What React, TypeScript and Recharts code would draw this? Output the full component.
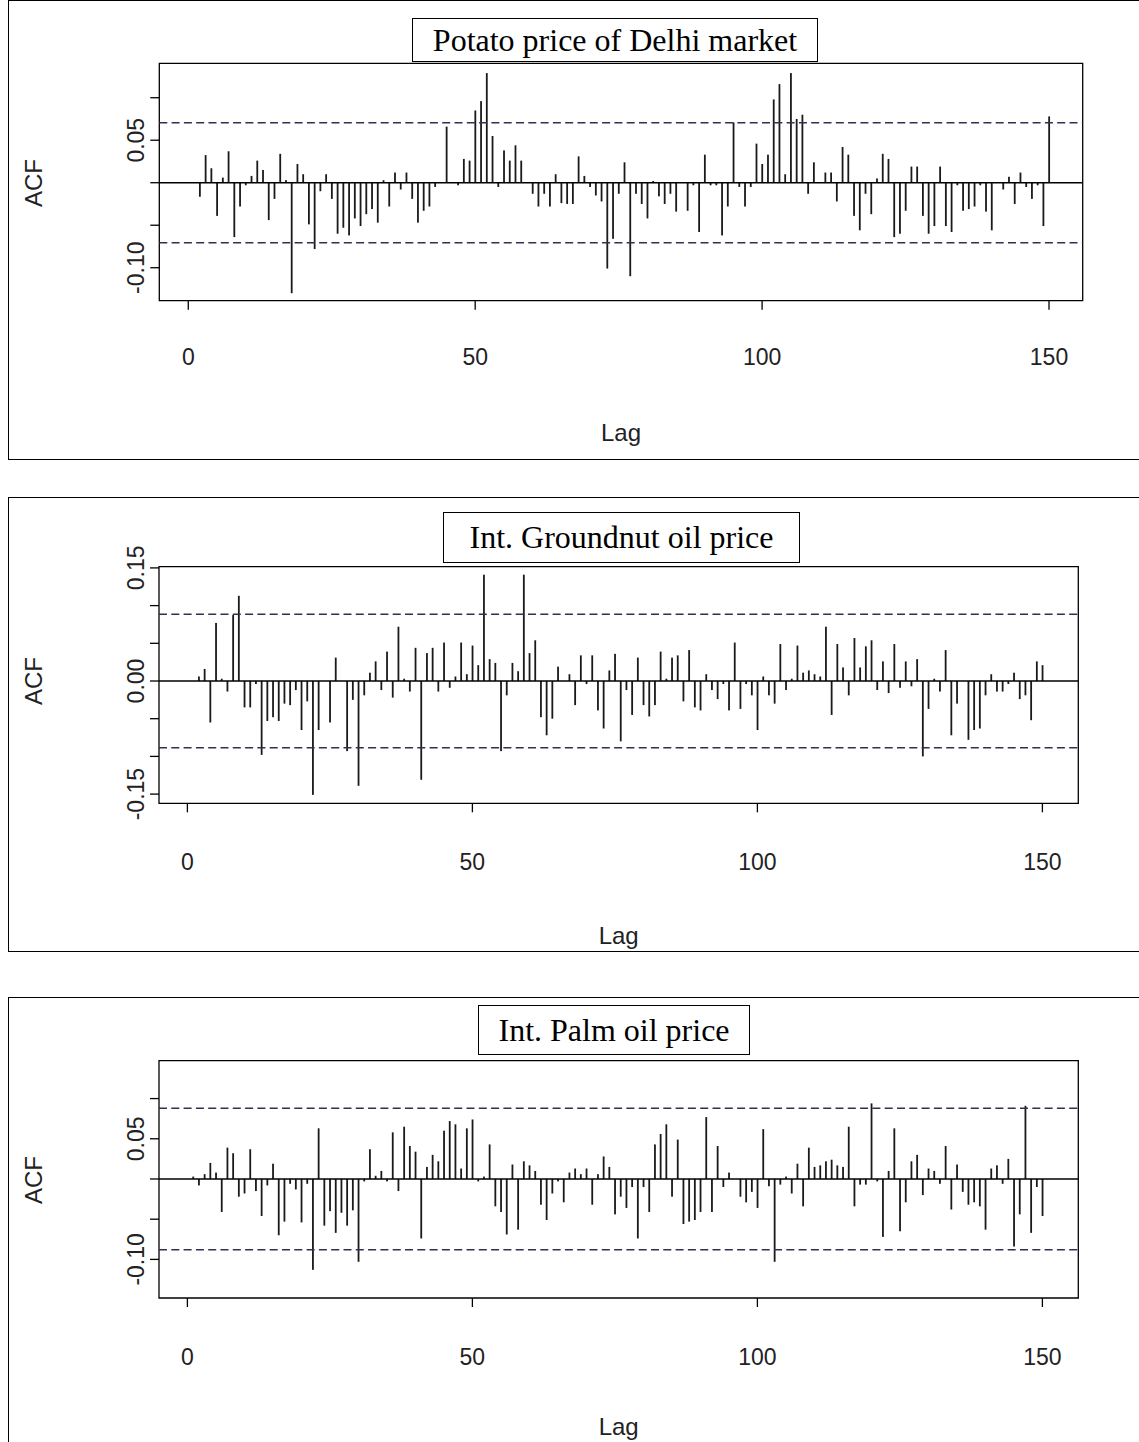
import React from 'react';
import { BarChart, Bar, XAxis, YAxis, ReferenceLine, ReferenceArea } from 'recharts';

// ---------------- DATA ----------------
const lags: number[] = Array.from({ length: 150 }, (_, i) => i + 1);

const potatoAcf: number[] = [
  0, -0.0165, 0.0325, 0.017, -0.039, 0.006, 0.037, -0.064, -0.028, -0.003,
  0.008, 0.026, 0.015, -0.044, -0.019, 0.034, 0.003, -0.13, 0.022, 0.01,
  -0.049, -0.078, -0.01, 0.01, -0.019, -0.06, -0.053, -0.062, -0.042, -0.051,
  -0.037, -0.031, -0.047, 0.003, -0.028, 0.012, -0.008, 0.012, -0.019, -0.047,
  -0.033, -0.028, -0.005, 0, 0.066, 0, -0.003, 0.028, 0.026, 0.085,
  0.096, 0.129, 0.055, -0.005, 0.038, 0.026, 0.044, 0.026, 0, -0.013,
  -0.028, -0.013, -0.028, 0.01, -0.024, -0.025, -0.025, 0.031, 0.008, -0.005,
  -0.015, -0.022, -0.101, -0.066, -0.013, 0.024, -0.11, -0.013, -0.025, -0.042,
  0.002, -0.016, -0.025, -0.013, -0.034, 0, -0.033, -0.003, -0.058, 0.033,
  -0.003, -0.003, -0.062, -0.028, 0.071, -0.005, -0.028, -0.005, 0.046, 0.022,
  0.033, 0.098, 0.116, 0.01, 0.129, 0.075, 0.08, -0.013, 0.024, 0,
  0.012, 0.012, -0.022, 0.042, 0.033, -0.039, -0.056, -0.013, -0.037, 0.005,
  0.034, 0.028, -0.064, -0.06, -0.033, 0.019, 0.019, -0.039, -0.06, -0.051,
  0.019, -0.051, -0.058, -0.003, -0.033, -0.031, -0.028, -0.003, -0.034, -0.056,
  0, -0.008, 0.007, -0.025, 0.012, -0.005, -0.019, -0.003, -0.051, 0.078,
];

const groundnutAcf: number[] = [
  0, 0.006, 0.016, -0.055, 0.077, 0.003, -0.014, 0.0875, 0.113, -0.035,
  -0.035, -0.004, -0.098, -0.053, -0.048, -0.053, -0.03, -0.032, -0.012, -0.065,
  -0.027, -0.151, -0.065, 0, -0.055, 0.031, 0, -0.093, -0.025, -0.139,
  -0.019, 0.011, 0.026, -0.012, 0.039, -0.022, 0.072, 0.003, -0.014, 0.044,
  -0.131, 0.037, 0.044, -0.014, 0.051, -0.009, 0.006, 0.051, 0.009, 0.047,
  0.021, 0.141, 0.029, 0.024, -0.093, -0.019, 0.024, 0.013, 0.141, 0.037,
  0.054, -0.048, -0.072, -0.05, 0.019, 0, 0.009, -0.032, 0.034, -0.004,
  0.034, -0.039, -0.063, 0.014, 0.036, -0.08, -0.012, -0.045, 0.031, -0.032,
  -0.047, -0.032, 0.039, 0.003, 0.031, 0.034, -0.027, 0.041, -0.035, -0.039,
  0.009, -0.012, -0.024, -0.004, -0.039, 0.051, -0.037, -0.004, -0.019, -0.065,
  0.006, -0.019, -0.03, 0.049, -0.012, 0.003, 0.047, 0.011, 0.014, 0.009,
  0.006, 0.072, -0.045, 0.049, 0.018, -0.019, 0.057, 0.018, 0.046, 0.054,
  -0.012, 0.026, -0.016, 0.049, -0.009, 0.026, -0.007, 0.029, -0.1, -0.037,
  0.003, -0.014, 0.041, -0.072, -0.03, 0, -0.078, -0.065, -0.063, -0.019,
  0.009, -0.014, -0.014, -0.004, 0.011, -0.024, -0.019, -0.052, 0.026, 0.021,
];

const palmAcf: number[] = [
  0.003, -0.008, 0.006, 0.02, 0.008, -0.041, 0.039, 0.032, -0.022, -0.018,
  0.037, -0.015, -0.046, -0.008, 0.019, -0.07, -0.053, -0.006, -0.013, -0.054,
  -0.006, -0.113, 0.063, -0.058, -0.04, -0.067, -0.042, -0.058, -0.039, -0.103,
  -0.003, 0.037, 0.004, 0.01, -0.003, 0.058, -0.015, 0.065, 0.041, 0.034,
  -0.074, 0.015, 0.03, 0.022, 0.06, 0.072, 0.068, 0.013, 0.063, 0.074,
  -0.003, 0.003, 0.043, -0.034, -0.041, -0.069, 0.018, -0.063, 0.022, 0.017,
  0.01, -0.032, -0.051, -0.018, -0.003, -0.029, 0.008, 0.013, 0.006, 0.013,
  -0.032, 0.006, 0.028, 0.015, -0.044, -0.022, -0.036, -0.01, -0.074, -0.01,
  -0.041, 0.043, 0.056, 0.068, -0.022, 0.049, -0.056, -0.053, -0.051, -0.041,
  0.077, -0.041, 0.041, -0.01, 0.008, 0, -0.022, -0.029, -0.016, -0.036,
  0.062, -0.009, -0.103, -0.007, 0.003, -0.018, 0.019, -0.034, 0.039, 0.015,
  0.017, 0.022, 0.024, 0.017, 0.015, 0.065, -0.034, -0.007, -0.007, 0.094,
  -0.003, -0.072, 0.01, 0.063, -0.065, -0.029, 0.022, 0.03, -0.02, 0.013,
  0.01, -0.006, 0.041, -0.038, 0.018, -0.016, -0.032, -0.029, -0.034, -0.063,
  0.013, 0.017, -0.006, 0.025, -0.084, -0.044, 0.091, -0.067, -0.01, -0.046,
];

const xTicks: number[] = [0, 50, 100, 150];
const potatoYTicks: number[] = [-0.1, -0.05, 0, 0.05, 0.1];
const potatoYLabels: number[] = [-0.1, 0.05];
const groundnutYTicks: number[] = [-0.15, -0.1, -0.05, 0, 0.05, 0.1, 0.15];
const groundnutYLabels: number[] = [-0.15, 0, 0.15];
const palmYTicks: number[] = [-0.1, -0.05, 0, 0.05, 0.1];
const palmYLabels: number[] = [-0.1, 0.05];

const potatoCI = 0.0706;
const groundnutCI = 0.0885;
const palmCI = 0.088;

const toRows = (vals: number[]) => lags.map((lag, i) => ({ lag, acf: vals[i] }));

// ---------------- RENDER HELPERS ----------------
const SANS = '"Liberation Sans", Arial, sans-serif';
const SERIF = '"Liberation Serif", "Times New Roman", serif';
const W = 1139;

const Spike = (props: any) => {
  const { x, y, width, height } = props;
  if (x == null || y == null || height == null) return null;
  const h = Math.abs(height);
  const top = height < 0 ? y + height : y;
  const cx = x + width / 2;
  return <rect x={cx - 0.9} y={top} width={1.8} height={h} fill="#1a1a1a" />;
};

const XTick = (props: any) => {
  const { x, payload, baseline } = props;
  return (
    <text x={x} y={baseline} textAnchor="middle" fontFamily={SANS} fontSize={23} fill="#222">
      {String(payload.value)}
    </text>
  );
};

const YTick = (props: any) => {
  const { y, payload, labeled, bx } = props;
  const v = payload.value;
  if (!labeled.some((l: number) => Math.abs(l - v) < 1e-9)) return null;
  return (
    <text
      x={bx}
      y={y}
      transform={`rotate(-90 ${bx} ${y})`}
      textAnchor="middle"
      fontFamily={SANS}
      fontSize={23}
      fill="#222"
    >
      {v.toFixed(2)}
    </text>
  );
};

const AxisTitle = (props: any) => {
  const { tx, ty, text, rotate } = props;
  return (
    <text
      x={tx}
      y={ty}
      transform={rotate ? `rotate(-90 ${tx} ${ty})` : undefined}
      textAnchor="middle"
      fontFamily={SANS}
      fontSize={24}
      fill="#222"
    >
      {text}
    </text>
  );
};

type Cfg = {
  title: string;
  data: { lag: number; acf: number }[];
  ci: number;
  yTicks: number[];
  yLabels: number[];
  yDomain: [number, number];
  xDomain: [number, number];
  top: number;
  height: number;
  box: { left: number; right: number; top: number; bottom: number };
  titleBox: { left: number; top: number; width: number; height: number };
  tickBaseline: number;
  lagBaseline: number;
  acfCenter: number;
};

const panels: Cfg[] = [
  {
    title: 'Potato price of Delhi market',
    data: toRows(potatoAcf),
    ci: potatoCI,
    yTicks: potatoYTicks,
    yLabels: potatoYLabels,
    yDomain: [-0.1388, 0.1405],
    xDomain: [-5.05, 155.87],
    top: 0,
    height: 460,
    box: { left: 159.3, right: 1082.7, top: 63.3, bottom: 300.7 },
    titleBox: { left: 412, top: 18, width: 406, height: 44 },
    tickBaseline: 365,
    lagBaseline: 441,
    acfCenter: 183,
  },
  {
    title: 'Int. Groundnut oil price',
    data: toRows(groundnutAcf),
    ci: groundnutCI,
    yTicks: groundnutYTicks,
    yLabels: groundnutYLabels,
    yDomain: [-0.1622, 0.1516],
    xDomain: [-4.98, 156.3],
    top: 497,
    height: 455,
    box: { left: 159, right: 1078.3, top: 566.7, bottom: 803.3 },
    titleBox: { left: 443, top: 512, width: 357, height: 51 },
    tickBaseline: 870,
    lagBaseline: 944,
    acfCenter: 681,
  },
  {
    title: 'Int. Palm oil price',
    data: toRows(palmAcf),
    ci: palmCI,
    yTicks: palmYTicks,
    yLabels: palmYLabels,
    yDomain: [-0.148, 0.1471],
    xDomain: [-4.98, 156.3],
    top: 997,
    height: 460,
    box: { left: 159, right: 1078.3, top: 1060.7, bottom: 1298 },
    titleBox: { left: 478, top: 1005, width: 272, height: 50 },
    tickBaseline: 1365,
    lagBaseline: 1435,
    acfCenter: 1180,
  },
];

function Panel({ cfg }: { cfg: Cfg }) {
  const T = cfg.top;
  const H = cfg.height;
  const box = cfg.box;
  const xAxisH = 40;
  const margin = {
    top: box.top - T,
    right: W - box.right,
    bottom: T + H - box.bottom - xAxisH,
    left: 0,
  };
  return (
    <>
      <div
        style={{
          position: 'absolute',
          left: 8,
          top: T,
          width: 1140,
          height: H,
          border: '1px solid #000',
          boxSizing: 'border-box',
        }}
      />
      <div style={{ position: 'absolute', left: 0, top: T, width: W, height: H }}>
        <BarChart width={W} height={H} data={cfg.data} margin={margin}>
          <XAxis
            type="number"
            dataKey="lag"
            domain={cfg.xDomain}
            ticks={xTicks}
            interval={0}
            allowDataOverflow
            height={xAxisH}
            axisLine={false}
            tickLine={{ stroke: '#000', strokeWidth: 1.3 }}
            tickSize={9}
            tick={<XTick baseline={cfg.tickBaseline - T} />}
            label={<AxisTitle tx={(box.left + box.right) / 2 + 0} ty={cfg.lagBaseline - T} text="Lag" />}
          />
          <YAxis
            type="number"
            domain={cfg.yDomain}
            ticks={cfg.yTicks}
            interval={0}
            allowDataOverflow
            width={box.left}
            axisLine={false}
            tickLine={{ stroke: '#000', strokeWidth: 1.3 }}
            tickSize={9}
            tick={<YTick labeled={cfg.yLabels} bx={box.left - 15} />}
            label={<AxisTitle tx={42} ty={cfg.acfCenter - T} text="ACF" rotate />}
          />
          <ReferenceLine y={0} stroke="#000" strokeWidth={1.5} />
          <ReferenceLine y={cfg.ci} stroke="#303050" strokeWidth={1.5} strokeDasharray="8 4.3" />
          <ReferenceLine y={-cfg.ci} stroke="#303050" strokeWidth={1.5} strokeDasharray="8 4.3" />
          <Bar dataKey="acf" barSize={2} isAnimationActive={false} shape={<Spike />} />
          <ReferenceArea
            x1={cfg.xDomain[0]}
            x2={cfg.xDomain[1]}
            y1={cfg.yDomain[0]}
            y2={cfg.yDomain[1]}
            fill="none"
            fillOpacity={0}
            stroke="#000"
            strokeWidth={1.3}
            ifOverflow="visible"
          />
        </BarChart>
      </div>
      <div
        style={{
          position: 'absolute',
          left: cfg.titleBox.left,
          top: cfg.titleBox.top,
          width: cfg.titleBox.width,
          height: cfg.titleBox.height,
          border: '1px solid #000',
          boxSizing: 'border-box',
          background: '#fff',
          display: 'flex',
          alignItems: 'center',
          justifyContent: 'center',
          fontFamily: SERIF,
          fontSize: 32,
          color: '#000',
          zIndex: 2,
          whiteSpace: 'nowrap',
        }}
      >
        {cfg.title}
      </div>
    </>
  );
}

export default function App() {
  return (
    <div
      style={{
        position: 'absolute',
        left: 0,
        top: 0,
        width: W,
        height: 1442,
        overflow: 'hidden',
        background: '#fff',
      }}
    >
      {panels.map((p) => (
        <Panel key={p.title} cfg={p} />
      ))}
    </div>
  );
}
